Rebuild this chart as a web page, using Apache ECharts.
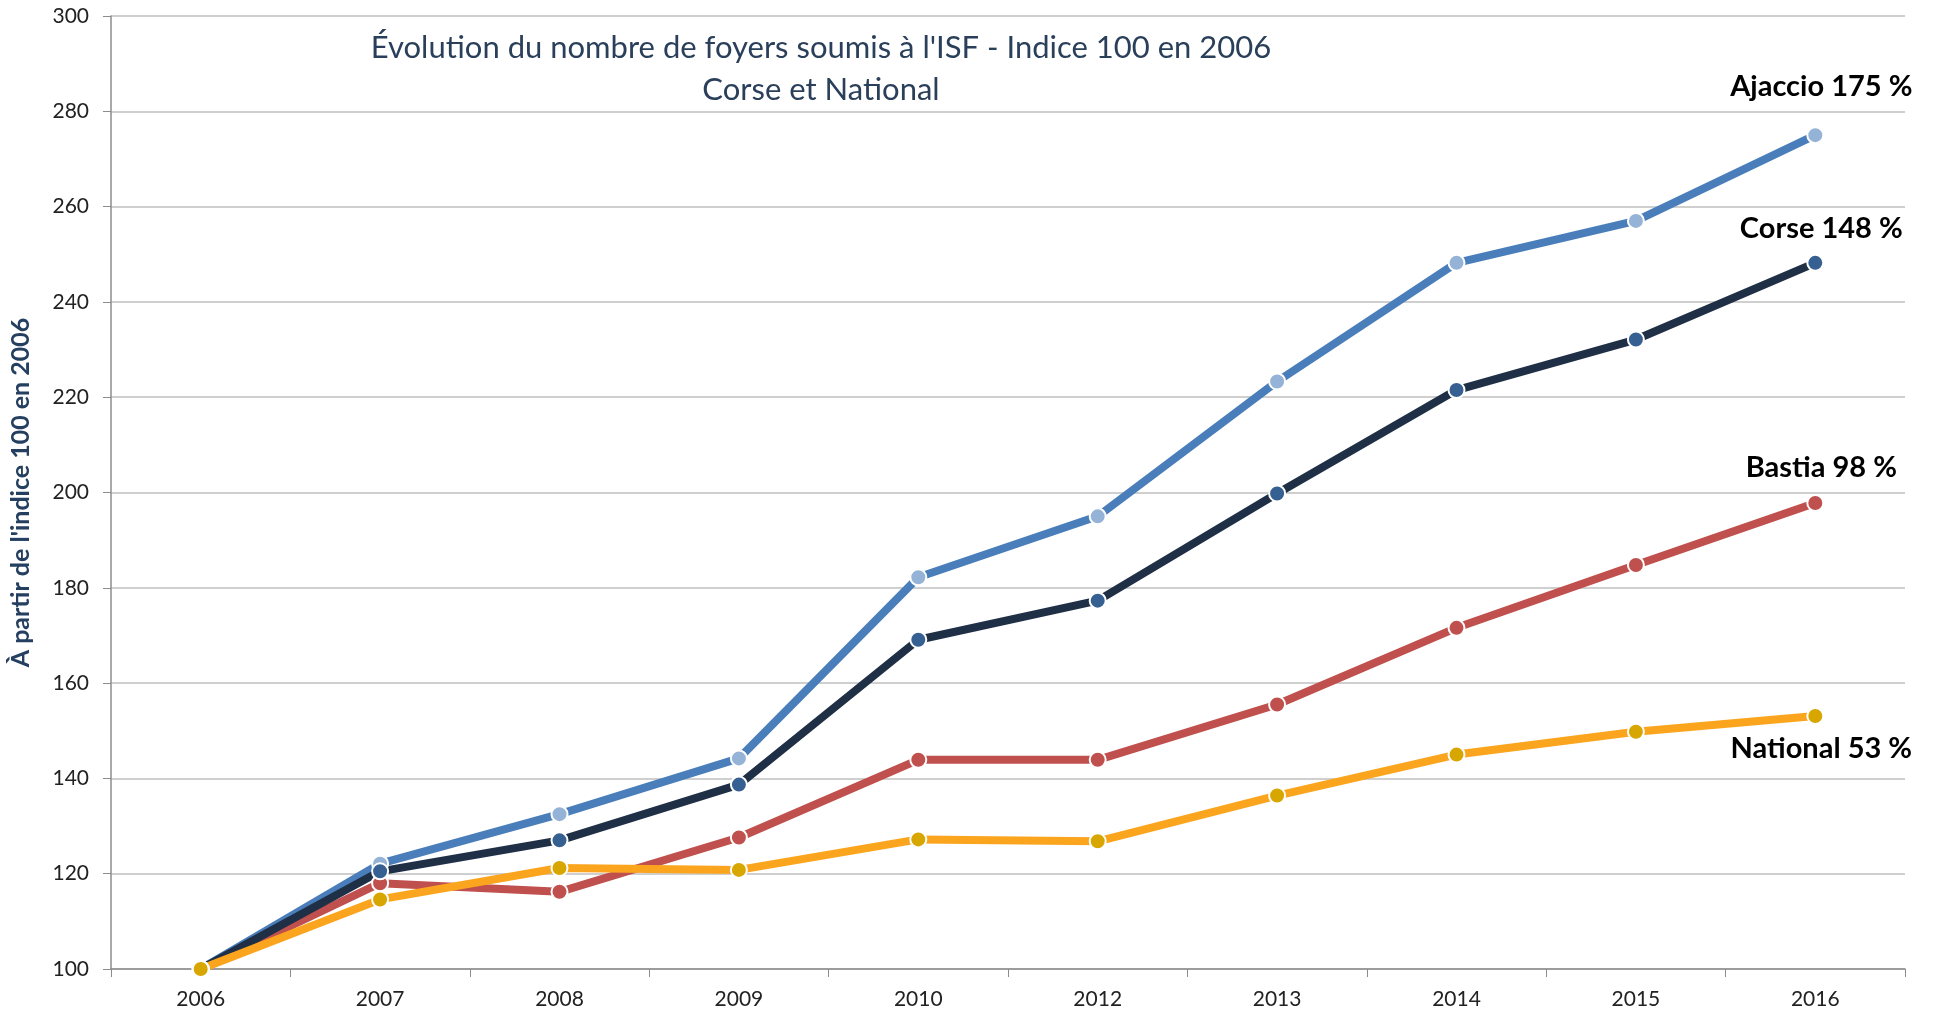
<!DOCTYPE html>
<html>
<head>
<meta charset="utf-8">
<title>ISF - Indice 100 en 2006</title>
<script src="https://cdn.jsdelivr.net/npm/echarts@6/dist/echarts.min.js"></script>
<style>
  html, body { margin: 0; padding: 0; background: #fff; }
  #main { width: 1937px; height: 1016px; }
</style>
</head>
<body>
<div id="main"></div>
<script>
// données
const years = ["2006", "2007", "2008", "2009", "2010", "2012", "2013", "2014", "2015", "2016"];
const ajaccio = [100, 122.1, 132.5, 144.2, 182.2, 195.0, 223.3, 248.2, 257.0, 275.0];
const bastia = [100, 118.0, 116.2, 127.6, 143.9, 143.9, 155.5, 171.6, 184.8, 197.8];
const corse = [100, 120.5, 127.0, 138.7, 169.1, 177.3, 199.8, 221.5, 232.1, 248.2];
const national = [100, 114.6, 121.2, 120.8, 127.2, 126.8, 136.4, 145.0, 149.8, 153.1];
const endLabels = {
  ajaccio: "Ajaccio 175 %",
  corse: "Corse 148 %",
  bastia: "Bastia 98 %",
  national: "National 53 %"
};

const font = "Lato, 'Open Sans', sans-serif";
const last = years.length - 1;

const makeSeries = (name, data, lineColor, dotColor, labelText, pos, dist) => ({
  name: name,
  type: "line",
  data: data,
  symbol: "circle",
  symbolSize: 16,
  lineStyle: { color: lineColor, width: 8 },
  itemStyle: { color: dotColor, borderColor: "#fff", borderWidth: 2 },
  label: {
    show: true,
    position: pos,
    distance: dist,
    offset: [6, 0],
    color: "#000",
    fontFamily: font,
    fontWeight: "bold",
    fontSize: 29,
    formatter: p => (p.dataIndex === last ? labelText : "")
  },
  emphasis: { disabled: true },
  animation: false
});

const chart = echarts.init(document.getElementById("main"));
const option = {
  backgroundColor: "#fff",
  title: {
    text: "Évolution du nombre de foyers soumis à l'ISF - Indice 100 en 2006\nCorse et National",
    left: 816,
    top: 22,
    textAlign: "center",
    textStyle: {
      fontFamily: font,
      fontWeight: "normal",
      fontSize: 31,
      lineHeight: 42,
      color: "#2A3F5A"
    }
  },
  grid: { left: 110, right: 32, top: 16, bottom: 47 },
  xAxis: {
    type: "category",
    data: years,
    boundaryGap: true,
    axisLine: { lineStyle: { color: "#8C8C8C", width: 1.5 } },
    axisTick: { show: true, length: 8, lineStyle: { color: "#8C8C8C" } },
    axisLabel: { color: "#222", fontFamily: font, fontSize: 21, margin: 20 }
  },
  yAxis: {
    type: "value",
    min: 100,
    max: 300,
    interval: 20,
    name: "À partir de l'indice 100 en 2006",
    nameLocation: "middle",
    nameRotate: 90,
    nameGap: 78,
    nameTextStyle: { color: "#243F60", fontFamily: font, fontWeight: "bold", fontSize: 25 },
    axisLine: { show: true, lineStyle: { color: "#8C8C8C", width: 1.5 } },
    axisTick: { show: true, length: 8, lineStyle: { color: "#8C8C8C" } },
    axisLabel: { color: "#222", fontFamily: font, fontSize: 21, margin: 22 },
    splitLine: { lineStyle: { color: "#BFBFBF", width: 1.5 } }
  },
  series: [
    makeSeries("Ajaccio", ajaccio, "#4A7EBB", "#95B3D7", endLabels.ajaccio, "top", 25),
    makeSeries("Bastia", bastia, "#C0504D", "#C0504D", endLabels.bastia, "top", 12),
    makeSeries("Corse", corse, "#1F2F46", "#376092", endLabels.corse, "top", 11),
    makeSeries("National", national, "#FBA51F", "#D8A600", endLabels.national, "bottom", 9)
  ]
};
chart.setOption(option);
</script>
</body>
</html>
